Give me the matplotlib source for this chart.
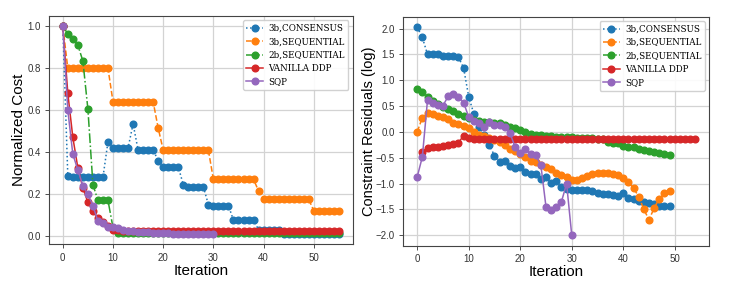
import matplotlib
matplotlib.use("Agg")
import matplotlib.pyplot as plt
import numpy as np

labels = ["3b,CONSENSUS", "3b,SEQUENTIAL", "2b,SEQUENTIAL", "VANILLA DDP", "SQP"]
colors = ["#1f77b4", "#ff7f0e", "#2ca02c", "#d62728", "#9467bd"]
styles = [":", "--", "-.", "-", "-"]

# Left: normalized cost
cost_consensus = [1.0, 0.285, 0.28, 0.28, 0.28, 0.28, 0.28, 0.28, 0.28, 0.45,
                  0.42, 0.42, 0.42, 0.42, 0.535, 0.41, 0.41, 0.41, 0.41, 0.36,
                  0.33, 0.33, 0.33, 0.33, 0.245, 0.235, 0.235, 0.235, 0.235, 0.15,
                  0.145, 0.145, 0.145, 0.145, 0.075, 0.075, 0.075, 0.075, 0.075, 0.03,
                  0.03, 0.03, 0.03, 0.03, 0.01, 0.01, 0.01, 0.01, 0.01, 0.01,
                  0.01, 0.01, 0.01, 0.01, 0.01, 0.01]
cost_seq3 = [1.0, 0.8, 0.8, 0.8, 0.8, 0.8, 0.8, 0.8, 0.8, 0.8,
             0.64, 0.64, 0.64, 0.64, 0.64, 0.64, 0.64, 0.64, 0.64, 0.515,
             0.41, 0.41, 0.41, 0.41, 0.41, 0.41, 0.41, 0.41, 0.41, 0.41,
             0.27, 0.27, 0.27, 0.27, 0.27, 0.27, 0.27, 0.27, 0.27, 0.215,
             0.175, 0.175, 0.175, 0.175, 0.175, 0.175, 0.175, 0.175, 0.175, 0.175,
             0.12, 0.12, 0.12, 0.12, 0.12, 0.12]
cost_seq2 = [1.0, 0.965, 0.94, 0.91, 0.835, 0.605, 0.245, 0.17, 0.17, 0.17,
             0.04] + [0.013] * 45
cost_ddp = [1.0, 0.68, 0.47, 0.325, 0.23, 0.16, 0.12, 0.085, 0.065, 0.05,
            0.03, 0.027, 0.025] + [0.023] * 43
cost_sqp = [1.0, 0.6, 0.39, 0.315, 0.24, 0.2, 0.145, 0.07, 0.06, 0.045,
            0.045, 0.04, 0.03, 0.025, 0.022, 0.02, 0.018, 0.017, 0.016, 0.015,
            0.014, 0.013, 0.012, 0.012, 0.011, 0.011, 0.01, 0.01, 0.01, 0.01, 0.01]

# Right: constraint residuals (log)
res_consensus = [2.03, 1.83, 1.5, 1.51, 1.5, 1.47, 1.47, 1.47, 1.45, 1.24,
                 0.68, 0.35, 0.1, -0.05, -0.25, -0.46, -0.58, -0.57, -0.65, -0.69,
                 -0.68, -0.78, -0.82, -0.81, -0.91, -0.88, -0.99, -0.94, -1.07, -1.1,
                 -1.12, -1.13, -1.13, -1.13, -1.15, -1.19, -1.2, -1.21, -1.22, -1.23,
                 -1.19, -1.27, -1.3, -1.33, -1.36, -1.38, -1.4, -1.44, -1.44, -1.44]
res_seq3 = [0.0, 0.28, 0.36, 0.34, 0.3, 0.29, 0.25, 0.18, 0.16, 0.12,
            0.07, 0.0, -0.06, -0.07, -0.11, -0.15, -0.2, -0.25, -0.33, -0.37,
            -0.43, -0.48, -0.57, -0.59, -0.63, -0.67, -0.72, -0.79, -0.84, -0.88,
            -0.92, -0.92, -0.89, -0.85, -0.81, -0.8, -0.8, -0.8, -0.82, -0.84,
            -0.89, -0.97, -1.09, -1.25, -1.5, -1.7, -1.47, -1.29, -1.19, -1.14]
res_seq2 = [0.83, 0.78, 0.68, 0.6, 0.54, 0.48, 0.44, 0.4, 0.35, 0.3,
            0.27, 0.24, 0.22, 0.2, 0.2, 0.18, 0.17, 0.14, 0.1, 0.07,
            0.03, 0.0, -0.04, -0.05, -0.06, -0.07, -0.08, -0.09, -0.09, -0.1,
            -0.1, -0.11, -0.11, -0.12, -0.12, -0.13, -0.14, -0.2, -0.21, -0.22,
            -0.27, -0.29, -0.3, -0.33, -0.35, -0.36, -0.38, -0.4, -0.42, -0.45]
res_ddp_x = list(range(1, 55))
res_ddp = [-0.39, -0.31, -0.3, -0.29, -0.27, -0.25, -0.23, -0.21, -0.07,
           -0.12] + [-0.14] * 44
res_sqp = [-0.87, -0.48, 0.62, 0.57, 0.53, 0.51, 0.69, 0.73, 0.68, 0.57,
           0.29, 0.21, 0.18, 0.09, 0.2, 0.14, 0.13, 0.09, -0.02, -0.29,
           -0.41, -0.32, -0.43, -0.45, -0.64, -1.45, -1.52, -1.45, -1.35, -1.0,
           -2.0]

plt.rcParams['font.family'] = ['Liberation Sans', 'DejaVu Sans']
fig = plt.figure(figsize=(7.47, 2.85), dpi=100)
W, H = 747, 285
ax1 = fig.add_axes([49 / W, 1 - 244.3 / H, (352.7 - 49) / W, (244.3 - 16) / H])
ax2 = fig.add_axes([403.3 / W, 1 - 245.7 / H, (709.3 - 403.3) / W, (245.7 - 16.7) / H])

left_series = [cost_consensus, cost_seq3, cost_seq2, cost_ddp, cost_sqp]
for ys, lab, c, ls in zip(left_series, labels, colors, styles):
    ax1.plot(range(len(ys)), ys, linestyle=ls, marker='o', markersize=4.8,
             color=c, label=lab, linewidth=1.1)

right_series = [(range(len(res_consensus)), res_consensus),
                (range(len(res_seq3)), res_seq3),
                (range(len(res_seq2)), res_seq2),
                (res_ddp_x, res_ddp),
                (range(len(res_sqp)), res_sqp)]
for (xs, ys), lab, c, ls in zip(right_series, labels, colors, styles):
    ax2.plot(list(xs), ys, linestyle=ls, marker='o', markersize=4.8,
             color=c, label=lab, linewidth=1.1)

for ax in (ax1, ax2):
    ax.grid(True, color='#d3d3d3', linewidth=0.9)
    ax.set_axisbelow(True)
    ax.tick_params(labelsize=7, length=3, width=0.6, colors='#333333', pad=3)
    for sp in ax.spines.values():
        sp.set_color('#444444')
        sp.set_linewidth(0.8)
    ax.set_xlabel("Iteration", fontsize=11, labelpad=1)
    ax.legend(loc='upper right', prop={'family': 'DejaVu Serif', 'size': 6.3},
              framealpha=0.9, handlelength=1.9, borderpad=0.4, labelspacing=0.5,
              handletextpad=0.6)

ax1.set_ylabel("Normalized Cost", fontsize=11, labelpad=1)
ax2.set_ylabel("Constraint Residuals (log)", fontsize=10.5, labelpad=0)
ax1.set_xticks([0, 10, 20, 30, 40, 50])
ax2.set_xticks([0, 10, 20, 30, 40, 50])
ax1.set_yticks([0.0, 0.2, 0.4, 0.6, 0.8, 1.0])
ax2.set_yticks([-2.0, -1.5, -1.0, -0.5, 0.0, 0.5, 1.0, 1.5, 2.0])
ax1.yaxis.set_major_formatter(matplotlib.ticker.FormatStrFormatter('%.1f'))
ax2.yaxis.set_major_formatter(matplotlib.ticker.FuncFormatter(
    lambda v, p: ("\u2212" if v < 0 else "") + "%.1f" % abs(v)))

fig.savefig("out.png", dpi=100)
